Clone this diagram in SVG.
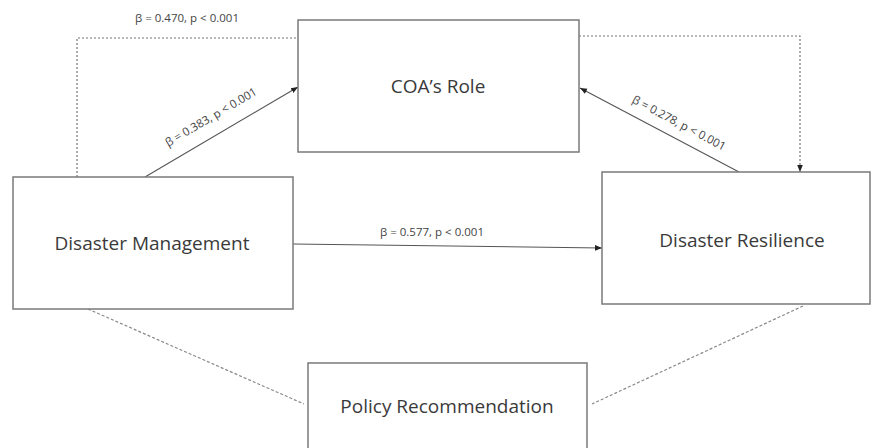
<svg xmlns="http://www.w3.org/2000/svg" width="872" height="448" viewBox="0 0 872 448">
<defs>
<style>
.box{fill:#fff;stroke:#7a7a7a;stroke-width:1.5}
.node{font-family:"Open Sans","Liberation Sans",sans-serif;font-size:19px;fill:#3a3a3a;text-anchor:middle}
.lbl{font-family:"Open Sans","Liberation Sans",sans-serif;font-size:11.5px;fill:#444;text-anchor:middle}
.solid{fill:none;stroke:#555;stroke-width:1.1}
.dot{fill:none;stroke:#777;stroke-width:1.2;stroke-dasharray:2 2}
.dash{fill:none;stroke:#888;stroke-width:1.2;stroke-dasharray:3 2}
</style>
<marker id="ah" viewBox="0 0 10 10" refX="10" refY="5" markerWidth="7" markerHeight="7" orient="auto" markerUnits="userSpaceOnUse">
<path d="M0,1 L10,5 L0,9 z" fill="#222"/>
</marker>
</defs>
<rect width="872" height="448" fill="#fff"/>
<g id="connectors">
<polyline class="dot" points="77,177 77,38 298,38"/>
<polyline class="dot" points="579,36 800,36 800,172" marker-end="url(#ah)"/>
<line class="solid" x1="145" y1="177" x2="298" y2="87" marker-end="url(#ah)"/>
<line class="solid" x1="739" y1="172" x2="580" y2="88" marker-end="url(#ah)"/>
<line class="solid" x1="293" y1="244" x2="602" y2="248" marker-end="url(#ah)"/>
<line class="dash" x1="88" y1="309" x2="304" y2="404"/>
<line class="dash" x1="803" y1="306" x2="592" y2="404"/>
<text class="lbl" x="187" y="22">β = 0.470, p &lt; 0.001</text>
<text class="lbl" transform="translate(211,117) rotate(-30.6)" x="0" y="4">β = 0.383, p &lt; 0.001</text>
<text class="lbl" transform="translate(679,123) rotate(27.8)" x="0" y="4">β = 0.278, p &lt; 0.001</text>
<text class="lbl" x="432" y="236">β = 0.577, p &lt; 0.001</text>
</g>
<g id="coa">
<rect class="box" x="298" y="20" width="281" height="132"/>
<text class="node" x="438" y="93">COA’s Role</text>
</g>
<g id="dm">
<rect class="box" x="13" y="177" width="280" height="132"/>
<text class="node" x="152" y="250">Disaster Management</text>
</g>
<g id="dr">
<rect class="box" x="602" y="172" width="268" height="132"/>
<text class="node" x="742" y="247">Disaster Resilience</text>
</g>
<g id="pr">
<rect class="box" x="308" y="363" width="279" height="100"/>
<text class="node" x="447" y="413">Policy Recommendation</text>
</g>
</svg>
